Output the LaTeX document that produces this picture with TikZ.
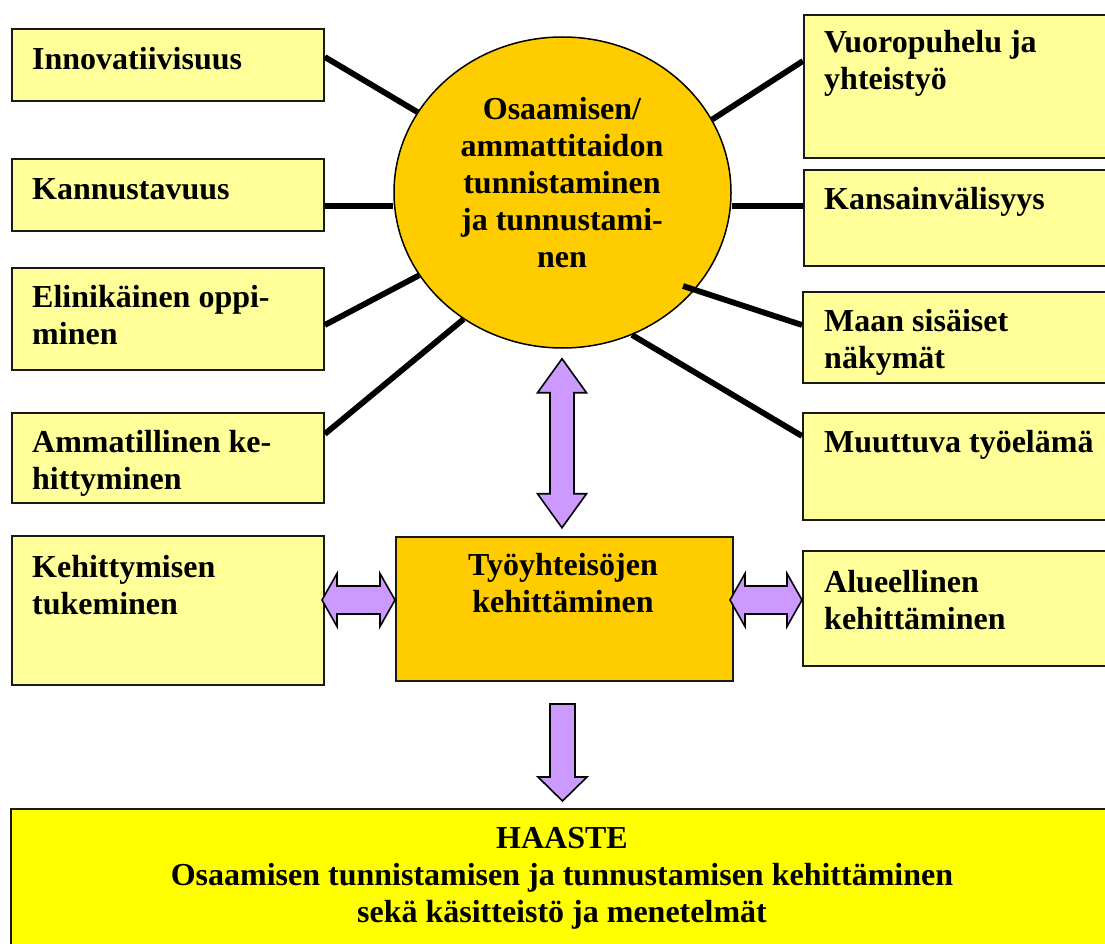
\documentclass[tikz,border=0pt]{standalone}
\usepackage{fontspec}
\setmainfont{Liberation Serif}
\usetikzlibrary{calc,shapes.geometric}
\definecolor{paleyellow}{HTML}{FFFF99}
\definecolor{gold}{HTML}{FFCC00}
\definecolor{brightyellow}{HTML}{FFFF00}
\definecolor{lilac}{HTML}{CC99FF}

\begin{document}
\begin{tikzpicture}[x=1pt,y=-1pt,
  box/.style={draw=black!90, line width=1.8pt, fill=paleyellow, anchor=north west, inner sep=0pt},
  lbl/.style={anchor=base west, inner sep=0pt, font=\bfseries\fontsize{32}{37}\selectfont},
  clbl/.style={anchor=base, inner sep=0pt, font=\bfseries\fontsize{32}{37}\selectfont},
  spoke/.style={line width=5.8pt},
  bigarrow/.style={draw=black, line width=1.6pt, fill=lilac, line join=miter}]

\useasboundingbox (0,0) rectangle (1105,944);
\clip (0,0) rectangle (1105,944);

% left column of themes
\node[box, minimum width=312, minimum height=72]  (inn) at (11,28)  {};
\node[box, minimum width=312, minimum height=72]  (kan) at (11,158) {};
\node[box, minimum width=312, minimum height=102] (eli) at (11,267) {};
\node[box, minimum width=312, minimum height=90]  (amm) at (11,412) {};
\node[box, minimum width=312, minimum height=149] (keh) at (11,535) {};

% right column of themes
\node[box, minimum width=330, minimum height=143] (vuo)  at (803,14)  {};
\node[box, minimum width=330, minimum height=96]  (kv)   at (803,169) {};
\node[box, minimum width=330, minimum height=91]  (maan) at (802,291) {};
\node[box, minimum width=330, minimum height=107] (muu)  at (802,412) {};
\node[box, minimum width=330, minimum height=115] (alu)  at (802,550) {};

% central topic
\node[draw=black, line width=1.5pt, fill=gold, ellipse, minimum width=337, minimum height=311, inner sep=0pt]
  (circ) at (562.5,192.5) {};

% development box and challenge box
\node[box, fill=gold, minimum width=337, minimum height=144] (dev) at (395,536) {};
\node[box, fill=brightyellow, minimum width=1110, minimum height=150] (haaste) at (10,808) {};

% spokes
\draw[spoke] ($(inn.north east)+(0,29)$) -- (circ.151.4);
\draw[spoke] ($(kan.north east)+(0,48)$) coordinate (kanS) -- (kanS -| circ.west);
\draw[spoke] ($(eli.north east)+(0,58)$) -- (circ.210);
\draw[spoke] ($(amm.north east)+(0,22)$) -- (circ.232);
\draw[spoke] ($(vuo.north west)+(0,47)$) -- (circ.26.6);
\draw[spoke] ($(kv.north west)+(0,37)$) coordinate (kvS) -- (kvS -| circ.east);
\draw[spoke] ($(maan.north west)+(0,34)$) -- ($(circ.center)+(120.5,93.5)$);
\draw[spoke] ($(muu.north west)+(0,24)$) -- (circ.296.8);

% labels
\node[lbl] (innT) at ($(inn.north west)+(21,42)$) {Innovatiivisuus};
\node[lbl] (kanT) at ($(kan.north west)+(21,42)$) {Kannustavuus};
\node[lbl] (eliT) at ($(eli.north west)+(21,40)$) {\parbox[t]{290pt}{\raggedright Elinikäinen oppi-\\minen}};
\node[lbl] (ammT) at ($(amm.north west)+(21,40)$) {\parbox[t]{290pt}{\raggedright Ammatillinen ke-\\hittyminen}};
\node[lbl] (kehT) at ($(keh.north west)+(21,42)$) {\parbox[t]{290pt}{\raggedright Kehittymisen\\tukeminen}};

\node[lbl] (vuoT)  at ($(vuo.north west)+(21,39)$)  {\parbox[t]{290pt}{\raggedright Vuoropuhelu ja\\yhteistyö}};
\node[lbl] (kvT)   at ($(kv.north west)+(21,41)$)   {Kansainvälisyys};
\node[lbl] (maanT) at ($(maan.north west)+(22,40)$) {\parbox[t]{290pt}{\raggedright Maan sisäiset\\näkymät}};
\node[lbl] (muuT)  at ($(muu.north west)+(22,40)$)  {Muuttuva työelämä};
\node[lbl] (aluT)  at ($(alu.north west)+(22,42)$)  {\parbox[t]{290pt}{\raggedright Alueellinen\\kehittäminen}};

\node[clbl] (circT) at (562,120) {\parbox[t]{330pt}{\centering Osaamisen/\\ammattitaidon\\tunnistaminen\\ja tunnustami-\\nen}};
\node[clbl] (devT) at (563,575) {\parbox[t]{330pt}{\centering Työyhteisöjen\\kehittäminen}};
\node[clbl] (haasteT) at (562,848) {\parbox[t]{1000pt}{\centering HAASTE\\Osaamisen tunnistamisen ja tunnustamisen kehittäminen\\sekä käsitteistö ja menetelmät}};

% block arrows
\coordinate (vtop) at ($(circ.south)+(-0.5,10)$);
\draw[bigarrow] (vtop) -- ++(24.5,34) -- ++(-12.5,0) -- ++(0,101) -- ++(12.5,0)
  -- ++(-24.5,34) -- ++(-24.5,-34) -- ++(12.5,0) -- ++(0,-101) -- ++(-12.5,0) -- cycle;

\coordinate (lleft) at (322,600);
\draw[bigarrow] (lleft) -- ++(15,-26.5) -- ++(0,12.5) -- ++(43,0) -- ++(0,-12.5)
  -- ++(15,26.5) -- ++(-15,26.5) -- ++(0,-12.5) -- ++(-43,0) -- ++(0,12.5) -- cycle;

\coordinate (rleft) at (730,600);
\draw[bigarrow] (rleft) -- ++(15,-26.5) -- ++(0,12.5) -- ++(42,0) -- ++(0,-12.5)
  -- ++(15,26.5) -- ++(-15,26.5) -- ++(0,-12.5) -- ++(-42,0) -- ++(0,12.5) -- cycle;

\coordinate (dtop) at (550,704);
\draw[bigarrow] (dtop) -- ++(25,0) -- ++(0,73) -- ++(12,0) -- ++(-24.5,24)
  -- ++(-24.5,-24) -- ++(12,0) -- cycle;
\end{tikzpicture}
\end{document}
